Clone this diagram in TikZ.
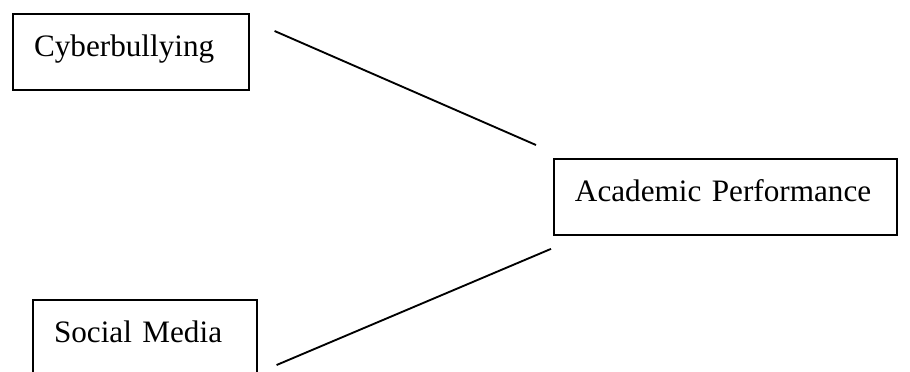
\documentclass[tikz,border=0pt]{standalone}
\usepackage{fontspec}
\setmainfont{Liberation Serif}
\usetikzlibrary{calc}

\begin{document}
\begin{tikzpicture}[x=0.375pt,
					y=-0.375pt,
					line width=0.7pt,
					var node/.style={draw,
					                 align=left,
					                 inner xsep=7.9pt,
					                 inner ysep=0pt,
					                 text height=16.1pt,
					                 text depth=12.4pt,
					                 font=\fontsize{11.7}{14}\selectfont}]

  \useasboundingbox (0,0) rectangle (910,371);

  \node[var node, text width=72.6pt, anchor=north west] (cyber) at (12,13) {Cyberbullying};
  \node[var node, text width=112.8pt, anchor=north west] (acad) at (553,158) {Academic Performance};
  \node[var node, text width=68.1pt, anchor=north west] (social) at (32,299) {Social Media};

  \draw ($(cyber.north east)+(25,18)$) -- ($(acad.north west)+(-17,-13)$);
  \draw ($(social.north east)+(19,66)$) -- ($(acad.south west)+(-2,13)$);
\end{tikzpicture}
\end{document}
